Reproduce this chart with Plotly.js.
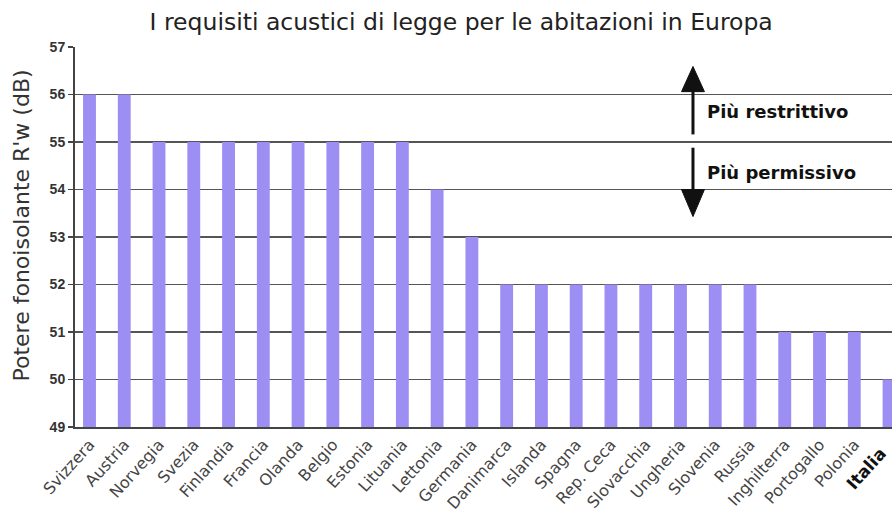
<!DOCTYPE html>
<html>
<head>
<meta charset="utf-8">
<script src="https://cdn.plot.ly/plotly-3.0.1.min.js"></script>
<style>
  html, body { margin: 0; padding: 0; background: #ffffff; }
  #chart { width: 892px; height: 513px; }
</style>
</head>
<body>
<div id="chart"></div>
<script>
// Paesi europei e requisito minimo di isolamento acustico R'w (dB)
const countries = [
  "Svizzera", "Austria", "Norvegia", "Svezia", "Finlandia", "Francia",
  "Olanda", "Belgio", "Estonia", "Lituania", "Lettonia", "Germania",
  "Danimarca", "Islanda", "Spagna", "Rep. Ceca", "Slovacchia", "Ungheria",
  "Slovenia", "Russia", "Inghilterra", "Portogallo", "Polonia", "Italia"
];
const rwValues = [
  56, 56, 55, 55, 55, 55,
  55, 55, 55, 55, 54, 53,
  52, 52, 52, 52, 52, 52,
  52, 52, 51, 51, 51, 50
];
const highlighted = "Italia";
const yTicks = [49, 50, 51, 52, 53, 54, 55, 56, 57];

const FONT = "DejaVu Sans, Verdana, sans-serif";
const FONT_NUM = "Liberation Sans, Arial, sans-serif";

const positions = countries.map((_, i) => i);
// the highlighted country is bold and larger; trailing no-break spaces keep it inside the page edge
const tickText = countries.map(c =>
  c === highlighted ? '<span style="font-size:17px;color:#111"><b>' + c + '\u00a0\u00a0</b></span>' : c
);

const bars = {
  type: "bar",
  x: positions,
  y: rwValues,
  width: 0.37,
  marker: { color: "#9c8ef2", line: { width: 0 } },
  hoverinfo: "skip"
};

// Frecce "più restrittivo" / "più permissivo"
const arrowX = 17.36;
const headHalf = 0.33;
const shapes = [
  { type: "line", xref: "x", yref: "y", x0: arrowX, x1: arrowX, y0: 55.16, y1: 56.1,
    line: { color: "#111", width: 3 } },
  { type: "path", xref: "x", yref: "y",
    path: `M ${arrowX - headHalf} 56.06 L ${arrowX + headHalf} 56.06 L ${arrowX} 56.59 Z`,
    fillcolor: "#111", line: { color: "#111", width: 1 } },
  { type: "line", xref: "x", yref: "y", x0: arrowX, x1: arrowX, y0: 54.88, y1: 53.95,
    line: { color: "#111", width: 3 } },
  { type: "path", xref: "x", yref: "y",
    path: `M ${arrowX - headHalf} 54.0 L ${arrowX + headHalf} 54.0 L ${arrowX} 53.43 Z`,
    fillcolor: "#111", line: { color: "#111", width: 1 } }
];

const annotations = [
  { xref: "x", yref: "y", x: 17.7, y: 55.64, xanchor: "left", yanchor: "middle",
    text: "<b>Più restrittivo</b>", showarrow: false,
    font: { family: FONT, size: 18, color: "#111" } },
  { xref: "x", yref: "y", x: 17.7, y: 54.36, xanchor: "left", yanchor: "middle",
    text: "<b>Più permissivo</b>", showarrow: false,
    font: { family: FONT, size: 18, color: "#111" } },
  { xref: "paper", yref: "paper", x: -0.065, y: 0.53, xanchor: "center", yanchor: "middle",
    text: "Potere fonoisolante R'w (dB)", textangle: -90, showarrow: false,
    font: { family: FONT, size: 22, color: "#333" } }
];

const layout = {
  width: 892,
  height: 513,
  margin: { l: 75, r: 0, t: 47, b: 86, pad: 0 },
  paper_bgcolor: "#ffffff",
  plot_bgcolor: "#ffffff",
  showlegend: false,
  title: {
    text: "I requisiti acustici di legge per le abitazioni in Europa",
    x: 0.517, xanchor: "center", y: 0.957, yanchor: "middle",
    font: { family: FONT, size: 23.5, color: "#222" }
  },
  xaxis: {
    range: [-0.417, 23.085],
    tickmode: "array",
    tickvals: positions,
    ticktext: tickText,
    tickangle: -48,
    ticks: "",
    ticklabeloverflow: "allow",
    showgrid: false,
    showline: true,
    linecolor: "#444",
    linewidth: 2,
    zeroline: false,
    tickfont: { family: FONT, size: 16, color: "#444" },
    fixedrange: true
  },
  yaxis: {
    range: [49, 57],
    tickmode: "array",
    tickvals: yTicks,
    ticktext: yTicks.map(v => "<b>" + v + "</b>"),
    ticks: "outside",
    ticklen: 5,
    tickwidth: 1.5,
    tickcolor: "#444",
    showgrid: true,
    gridcolor: "#555",
    gridwidth: 1.7,
    showline: true,
    linecolor: "#444",
    linewidth: 2,
    zeroline: false,
    tickfont: { family: FONT_NUM, size: 14, color: "#333" },
    fixedrange: true
  },
  shapes: shapes,
  annotations: annotations
};

Plotly.newPlot("chart", [bars], layout, { displayModeBar: false, staticPlot: true });
</script>
</body>
</html>
